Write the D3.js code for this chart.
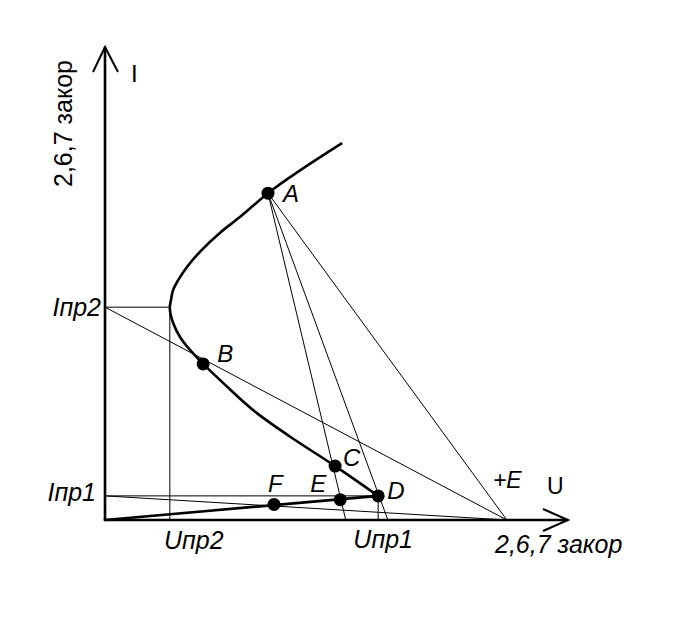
<!DOCTYPE html>
<html><head><meta charset="utf-8">
<script src="https://cdn.jsdelivr.net/npm/d3@7"></script>
<style>
html,body{margin:0;padding:0;background:#fff;}
text{font-family:"Liberation Sans",Arial,sans-serif;fill:#000;}
</style></head>
<body>
<script>
// ---- data (arbitrary units: U horizontal 0..100, I vertical 0..100) ----
const curveU = [59.0, 49.7, 40.0, 32.8, 25.5, 21.2, 18.4, 16.2, 14.7, 14.0, 14.25, 14.7, 15.8, 17.7, 20.5, 24.8, 29.2, 35.2, 51.2];
const curveI = [5.1, 11.4, 17.6, 22.6, 29.0, 33.0, 35.9, 38.7, 41.7, 45.0, 46.5, 48.6, 50.7, 53.5, 56.7, 60.7, 64.1, 69.1, 79.7];
const lowerU = [0, 59.0];
const lowerI = [0, 5.1];
const pointNames = ["A", "B", "C", "D", "E", "F"];
const pointU = [35.2, 21.2, 49.7, 59.0, 50.8, 36.5];
const pointI = [69.1, 33.0, 11.4, 5.1, 4.3, 3.3];
const supplyE = 86.8;          // +E on U axis
const Ipr1 = 5.1, Ipr2 = 45.0;  // current levels
const Upr1 = 59.0, Upr2 = 14.0; // voltage levels
const loadInterceptsFromA = [52.0, 61.1]; // U-axis ends of lines from A
const tickLabels = {Ipr1: "Iпр1", Ipr2: "Iпр2", Upr1: "Uпр1", Upr2: "Uпр2"};
const axisLabelI = "I", axisLabelU = "U", sideLabel = "2,6,7 закор", supplyLabel = "+E";

const W = 673, H = 619;
const svg = d3.select("body").append("svg").attr("width", W).attr("height", H)
  .style("background", "#fff");
const x = d3.scaleLinear().domain([0, 100]).range([105, 568]);
const y = d3.scaleLinear().domain([0, 100]).range([520, 47]);

const P = n => { const k = pointNames.indexOf(n); return [pointU[k], pointI[k]]; };
const thin = (a, b) => svg.append("line")
  .attr("x1", x(a[0])).attr("y1", y(a[1])).attr("x2", x(b[0])).attr("y2", y(b[1]))
  .attr("stroke", "#000").attr("stroke-width", 1);

// thin construction lines
thin([0, Ipr2], [Upr2, Ipr2]);
thin([Upr2, Ipr2], [Upr2, 0]);
thin([0, Ipr2], [supplyE, 0]);
thin(P("A"), [supplyE, 0]);
loadInterceptsFromA.forEach(u => thin(P("A"), [u, 0]));
thin([0, Ipr1], P("D"));
thin([0, Ipr1], [supplyE, 0]);
thin(P("D"), [Upr1, 0]);

// axes
const ax = svg.append("g").attr("stroke", "#000").attr("stroke-width", 2.6).attr("fill", "none")
  .attr("stroke-linecap", "butt");
ax.append("line").attr("x1", x(0)).attr("y1", y(0)).attr("x2", x(0)).attr("y2", y(100));
ax.append("line").attr("x1", x(0) - 1.3).attr("y1", y(0)).attr("x2", x(100)).attr("y2", y(0));
ax.append("path").attr("stroke-width", 2)
  .attr("d", `M${x(0) - 12},${y(100) + 25} L${x(0)},${y(100)} L${x(0) + 13},${y(100) + 25}`);
ax.append("path").attr("stroke-width", 2)
  .attr("d", `M${x(100) - 25},${y(0) - 11} L${x(100)},${y(0)} L${x(100) - 25},${y(0) + 11}`);

// characteristic curve
const line = d3.line().x(d => x(d[0])).y(d => y(d[1]));
svg.append("path").datum(d3.zip(lowerU, lowerI)).attr("d", line)
  .attr("fill", "none").attr("stroke", "#000").attr("stroke-width", 2.6);
svg.append("path").datum(d3.zip(curveU, curveI)).attr("d", line.curve(d3.curveMonotoneY))
  .attr("fill", "none").attr("stroke", "#000").attr("stroke-width", 2.6);

// points
svg.selectAll("circle.pt").data(pointNames).join("circle")
  .attr("cx", (d, i) => x(pointU[i])).attr("cy", (d, i) => y(pointI[i]))
  .attr("r", 6.5).attr("fill", "#000");

// point labels
const lblOff = {A: [15, 9], B: [14, -2], C: [8, 0], D: [9, 3], E: [-30, -8], F: [-6, -12]};
svg.selectAll("text.pl").data(pointNames).join("text")
  .attr("x", (d, i) => x(pointU[i]) + lblOff[d][0])
  .attr("y", (d, i) => y(pointI[i]) + lblOff[d][1])
  .attr("font-size", 24).attr("font-style", "italic").text(d => d);

const t = (txt, px, py, opts = {}) => svg.append("text").attr("x", px).attr("y", py)
  .attr("font-size", opts.size || 24).attr("font-style", opts.italic === false ? "normal" : "italic")
  .attr("text-anchor", opts.anchor || "start").text(txt);

t(supplyLabel, x(supplyE) - 14, y(0) - 32, {size: 23});
t(tickLabels.Ipr2, x(0) - 4, y(Ipr2) + 9, {anchor: "end", size: 25});
t(tickLabels.Ipr1, x(0) - 9, y(Ipr1) + 5, {anchor: "end", size: 25});
t(tickLabels.Upr2, x(Upr2) + 24, y(0) + 29, {anchor: "middle", size: 25});
t(tickLabels.Upr1, x(Upr1) + 5, y(0) + 28, {anchor: "middle", size: 25});
t(axisLabelI, x(0) + 26, y(100) + 35, {italic: false, size: 24});
t(axisLabelU, x(100) - 21, y(0) - 26, {italic: false, size: 23});
t(sideLabel, x(100) - 73, y(0) + 33, {size: 25});
svg.append("text").attr("transform", `translate(72,187) rotate(-90)`)
  .attr("font-size", 25).text(sideLabel);
</script>
</body></html>
